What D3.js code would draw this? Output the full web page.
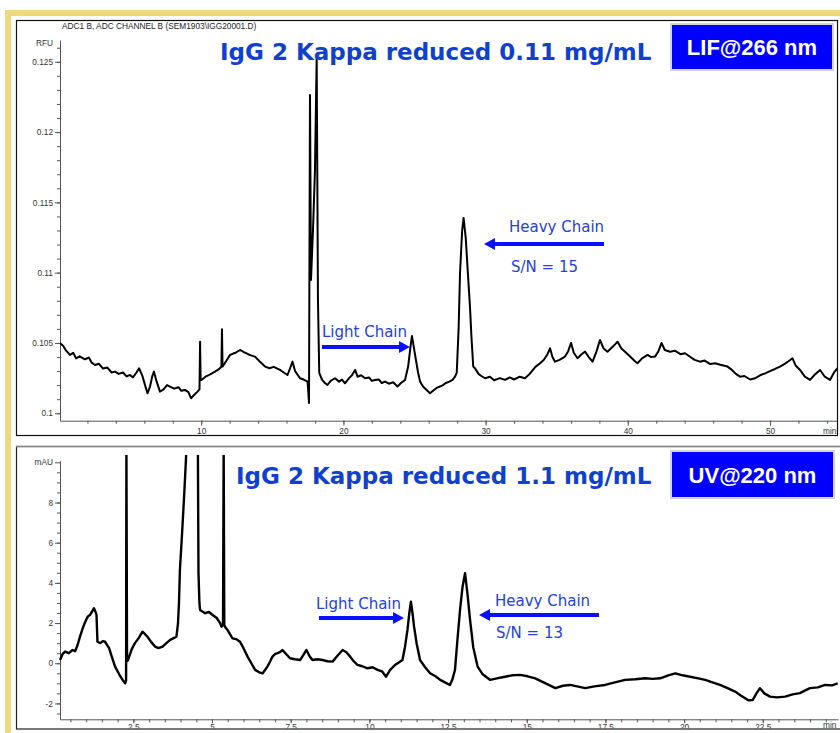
<!DOCTYPE html>
<html>
<head>
<meta charset="utf-8">
<script src="https://cdn.jsdelivr.net/npm/d3@7"></script>
<style>
body { margin: 0; background: #fff; }
</style>
</head>
<body>
<script>
// LIF trace (top), time in min / signal in RFU
var lifTime = [0.07,0.3,0.5,0.77,1.0,1.2,1.45,1.83,2.1,2.3,2.53,2.8,3.1,3.4,3.7,3.94,4.2,4.5,4.75,4.99,
  5.2,5.45,5.63,5.85,6.05,6.22,6.4,6.55,6.68,6.85,7.1,7.35,7.6,7.8,8.1,8.4,8.6,8.86,9.1,9.28,
  9.5,9.74,9.88,9.92,9.96,10.02,10.3,10.6,10.97,11.2,11.42,11.46,11.5,11.75,12.03,12.4,12.73,13.0,13.3,13.55,
  13.78,14.1,14.49,14.8,15.1,15.54,15.8,16.07,16.25,16.42,16.6,16.95,17.2,17.48,17.55,17.58,17.65,17.72,17.86,18.0,
  18.12,18.21,18.3,18.5,18.7,18.88,19.1,19.41,19.7,19.9,20.11,20.4,20.6,20.82,21.0,21.25,21.52,21.8,22.0,22.22,
  22.5,22.7,22.93,23.2,23.5,23.8,24.05,24.33,24.55,24.7,24.82,24.95,25.1,25.25,25.39,25.6,25.85,26.09,26.3,26.55,
  26.79,27.0,27.2,27.45,27.67,27.85,27.97,28.1,28.2,28.35,28.45,28.6,28.75,28.9,29.0,29.13,29.25,29.5,29.7,29.96,
  30.3,30.6,31.0,31.36,31.7,32.0,32.4,32.77,33.1,33.5,33.83,34.1,34.35,34.53,34.7,34.88,35.2,35.58,35.8,36.01,
  36.2,36.46,36.75,36.99,37.25,37.52,37.8,38.04,38.3,38.57,38.9,39.1,39.28,39.55,39.8,40.2,40.5,40.68,41.0,41.39,
  41.65,41.91,42.15,42.37,42.6,42.97,43.3,43.7,44.02,44.4,44.7,45.08,45.4,45.8,46.13,46.5,47.01,47.3,47.6,47.89,
  48.2,48.6,48.95,49.3,49.65,50.0,50.35,50.7,51.0,51.3,51.58,51.8,52.11,52.45,52.81,53.1,53.52,53.85,54.22,54.5,54.75];
var lifRfu = [0.1050,0.10478,0.10445,0.10415,0.10430,0.10390,0.10405,0.10384,0.10396,0.10360,0.10343,0.10352,0.10318,0.10325,0.10290,0.10296,0.10280,0.10290,0.10262,0.10272,
  0.10255,0.10290,0.10320,0.10270,0.10200,0.10142,0.10190,0.10260,0.10296,0.10230,0.10154,0.10170,0.10200,0.10190,0.10175,0.10185,0.10160,0.10166,0.10150,0.10107,
  0.10130,0.10154,0.10170,0.10509,0.10240,0.10237,0.10260,0.10275,0.10296,0.10310,0.10330,0.10597,0.10332,0.10370,0.10415,0.10430,0.10450,0.10435,0.10420,0.10410,
  0.10403,0.10370,0.10332,0.10320,0.10330,0.10308,0.10290,0.10272,0.10320,0.10367,0.10300,0.10249,0.10240,0.10225,0.10120,0.10073,0.12264,0.10948,0.11300,0.11730,
  0.12527,0.10806,0.10287,0.10237,0.10215,0.10201,0.10230,0.10249,0.10225,0.10240,0.10213,0.10250,0.10270,0.10308,0.10260,0.10270,0.10249,0.10255,0.10230,0.10237,
  0.10240,0.10215,0.10225,0.10210,0.10220,0.10190,0.10215,0.10237,0.10330,0.10460,0.10550,0.10470,0.10379,0.10290,0.10225,0.10190,0.10165,0.10142,0.10160,0.10180,
  0.10190,0.10200,0.10215,0.10225,0.10237,0.10260,0.10287,0.10600,0.10996,0.11300,0.11389,0.11250,0.11000,0.10758,0.10550,0.10332,0.10320,0.10280,0.10265,0.10249,
  0.10260,0.10235,0.10250,0.10237,0.10255,0.10240,0.10260,0.10249,0.10280,0.10330,0.10356,0.10380,0.10420,0.10462,0.10400,0.10367,0.10380,0.10403,0.10440,0.10500,
  0.10430,0.10391,0.10420,0.10438,0.10400,0.10367,0.10440,0.10521,0.10460,0.10438,0.10470,0.10490,0.10509,0.10460,0.10438,0.10400,0.10370,0.10356,0.10390,0.10415,
  0.10400,0.10403,0.10440,0.10500,0.10450,0.10438,0.10445,0.10420,0.10427,0.10400,0.10380,0.10367,0.10375,0.10350,0.10356,0.10345,0.10332,0.10310,0.10280,0.10260,
  0.10265,0.10240,0.10249,0.10270,0.10284,0.10300,0.10315,0.10332,0.10350,0.10370,0.10391,0.10340,0.10308,0.10260,0.10237,0.10270,0.10308,0.10260,0.10237,0.10290,0.10320];

// UV trace (bottom), time in min / signal in mAU
var uvTime = [0.17,0.25,0.33,0.45,0.57,0.65,0.73,0.8,0.89,0.97,1.05,1.12,1.2,1.25,1.3,1.33,1.36,1.45,1.53,1.6,
  1.73,1.82,1.92,2.05,2.16,2.24,2.27,2.28,2.3,2.33,2.45,2.55,2.67,2.79,2.87,2.95,3.07,3.19,3.3,3.43,
  3.55,3.67,3.78,3.87,3.92,3.95,3.98,4.05,4.12,4.18,4.2,4.55,4.57,4.6,4.62,4.78,4.9,5.02,5.15,5.26,
  5.3,5.35,5.37,5.39,5.44,5.49,5.65,5.77,5.89,6.0,6.13,6.25,6.37,6.5,6.61,6.68,6.76,6.85,6.92,7.0,
  7.08,7.16,7.24,7.36,7.48,7.64,7.8,7.9,8.0,8.1,8.19,8.35,8.51,8.67,8.83,9.0,9.15,9.27,9.39,9.5,
  9.62,9.78,9.94,10.1,10.26,10.4,10.53,10.65,10.82,10.95,11.05,11.13,11.21,11.27,11.32,11.37,11.42,11.5,11.61,11.77,
  11.93,12.1,12.25,12.4,12.56,12.64,12.72,12.8,12.88,12.96,13.04,13.12,13.2,13.3,13.44,13.6,13.84,14.05,14.31,14.55,
  14.79,15.03,15.27,15.6,15.91,16.15,16.38,16.6,16.86,17.15,17.49,17.8,18.13,18.45,18.76,19.0,19.24,19.5,19.72,19.95,
  20.19,20.45,20.67,20.9,21.14,21.4,21.62,21.8,21.94,22.05,22.18,22.3,22.41,22.55,22.73,22.95,23.21,23.45,23.68,23.85,
  24.0,24.25,24.48,24.7,24.88];
var uvMau = [0.16,0.45,0.58,0.50,0.66,0.60,0.91,1.30,1.74,2.05,2.32,2.40,2.60,2.74,2.55,2.40,1.07,1.00,1.10,1.07,
  0.75,0.30,-0.17,-0.55,-0.83,-1.00,-0.85,11,0.10,0.16,0.70,1.00,1.25,1.57,1.45,1.32,1.05,0.83,0.75,0.83,
  1.00,1.16,1.25,1.32,2.00,2.99,4.64,6.50,8.50,10.40,11,11,4.50,3.00,2.65,2.49,2.55,2.40,2.25,1.99,
  1.82,1.90,11,1.90,1.75,1.66,1.24,1.20,1.07,0.75,0.33,0.00,-0.33,-0.45,-0.50,-0.35,-0.17,0.10,0.33,0.45,
  0.50,0.55,0.66,0.45,0.25,0.20,0.16,0.40,0.66,0.35,0.16,0.20,0.16,0.10,0.08,0.40,0.66,0.55,0.33,0.10,
  -0.08,-0.15,-0.25,-0.20,-0.33,-0.40,-0.67,-0.35,-0.08,0.05,0.16,0.80,1.66,2.50,3.06,2.50,1.82,1.00,0.16,-0.20,
  -0.50,-0.65,-0.83,-0.95,-1.08,-0.80,-0.33,1.20,2.65,3.80,4.48,3.40,2.15,0.80,-0.17,-0.55,-0.83,-0.75,-0.67,-0.60,
  -0.58,-0.65,-0.75,-1.00,-1.24,-1.12,-1.08,-1.15,-1.24,-1.15,-1.08,-0.95,-0.83,-0.80,-0.75,-0.78,-0.75,-0.60,-0.50,-0.60,
  -0.67,-0.75,-0.83,-0.95,-1.08,-1.25,-1.41,-1.60,-1.74,-1.85,-1.83,-1.50,-1.24,-1.50,-1.66,-1.70,-1.66,-1.55,-1.49,-1.35,
  -1.24,-1.20,-1.08,-1.10,-1.00];

// tick values
var lifYMajor = [0.1,0.105,0.11,0.115,0.12,0.125];
var lifYLabels = ["0.1","0.105","0.11","0.115","0.12","0.125"];
var lifXMajor = [10,20,30,40,50];
var uvYMajor = [-2,0,2,4,6,8,10];
var uvYLabels = ["-2","0","2","4","6","8","mAU"];
var uvXMajor = [2.5,5,7.5,10,12.5,15,17.5,20,22.5];
var uvXLabels = ["2.5","5","7.5","10","12.5","15","17.5","20","22.5"];

var lifYMinor = d3.range(0, 27).map(function(i){ return 0.1 + i*0.001; });
var lifXMinor = d3.range(2, 55, 2);
var uvYMinor = d3.range(-5, 20).map(function(i){ return i*0.5; });
var uvXMinor = d3.range(1, 50).map(function(i){ return i*0.5; });

var svg = d3.select('body').append('svg').attr('width',840).attr('height',733);

// yellow slide border
svg.append('rect').attr('x',5).attr('y',10).attr('width',835).attr('height',6).attr('fill','#f0d87e');
svg.append('rect').attr('x',5).attr('y',10).attr('width',6).attr('height',723).attr('fill','#f0d87e');

// panel frames
svg.append('rect').attr('x',16.5).attr('y',20.5).attr('width',821).attr('height',415)
  .attr('fill','#fff').attr('stroke','#111').attr('stroke-width',1.2);
svg.append('rect').attr('x',16.5).attr('y',446.5).attr('width',830).attr('height',282.5)
  .attr('fill','#fff').attr('stroke','#222').attr('stroke-width',1.2);
svg.append('line').attr('x1',16).attr('x2',840).attr('y1',446.5).attr('y2',446.5).attr('stroke','#888').attr('stroke-width',1.5);

var defs = svg.append('defs');
defs.append('clipPath').attr('id','clipTop').append('rect').attr('x',17).attr('y',21).attr('width',820).attr('height',414);
defs.append('clipPath').attr('id','clipBot').append('rect').attr('x',17).attr('y',455).attr('width',823).attr('height',273.5);

svg.append('text').attr('x',62).attr('y',29).attr('font-family','Liberation Sans, Arial, sans-serif')
  .attr('font-size',8.3).attr('fill','#222').text('ADC1 B, ADC CHANNEL B (SEM1903\\IGG20001.D)');

// scales
var xL = d3.scaleLinear().domain([0.07, 54.78]).range([60, 838]);
var yL = d3.scaleLinear().domain([0.09947, 0.12655]).range([420.7, 40]);
var xU = d3.scaleLinear().domain([0.17, 24.89]).range([60, 838]);
var yU = d3.scaleLinear().domain([-2.79, 10.08]).range([719.3, 460.7]);

function styleAxis(g) {
  g.attr('font-family','Liberation Sans, Arial, sans-serif').attr('font-size',8.3);
  g.selectAll('.domain').attr('stroke','#555');
  g.selectAll('.tick line').attr('stroke','#555');
  g.selectAll('.tick text').attr('fill','#333');
}

function drawAxes(layer, x, y, xMaj, xMin, xFmt, yMaj, yMin, yFmt, xSize, xPad) {
  var gy = layer.append('g').attr('transform','translate(60,0)')
    .call(d3.axisLeft(y).tickValues(yMin).tickSize(3).tickSizeOuter(0).tickFormat(''));
  styleAxis(gy);
  var gy2 = layer.append('g').attr('transform','translate(60,0)')
    .call(d3.axisLeft(y).tickValues(yMaj).tickSize(5).tickSizeOuter(0).tickPadding(2).tickFormat(yFmt));
  gy2.select('.domain').remove();
  styleAxis(gy2);
  var y0 = y.range()[0];
  var gx = layer.append('g').attr('transform','translate(0,'+y0+')')
    .call(d3.axisBottom(x).tickValues(xMin).tickSize(3).tickSizeOuter(0).tickFormat(''));
  styleAxis(gx);
  var gx2 = layer.append('g').attr('transform','translate(0,'+y0+')')
    .call(d3.axisBottom(x).tickValues(xMaj).tickSize(xSize).tickSizeOuter(0).tickPadding(xPad).tickFormat(xFmt));
  gx2.select('.domain').remove();
  styleAxis(gx2);
}

var topPanel = svg.append('g').attr('clip-path','url(#clipTop)');
drawAxes(topPanel, xL, yL, lifXMajor, lifXMinor, function(d){ return d; },
  lifYMajor, lifYMinor, function(d,i){ return lifYLabels[i]; }, 5, 2.5);
topPanel.append('text').attr('x',53).attr('y',46).attr('text-anchor','end')
  .attr('font-family','Liberation Sans, Arial, sans-serif').attr('font-size',8.3).attr('fill','#333').text('RFU');
svg.append('text').attr('x',823).attr('y',434).attr('font-family','Liberation Sans, Arial, sans-serif')
  .attr('font-size',8.3).attr('fill','#333').text('min');

var lineL = d3.line().x(function(d,i){ return xL(lifTime[i]); }).y(function(d){ return yL(d); });
topPanel.append('path').attr('d', lineL(lifRfu)).attr('fill','none').attr('stroke','#000')
  .attr('stroke-width',2).attr('stroke-linejoin','round');

var botPanel = svg.append('g').attr('clip-path','url(#clipBot)');
drawAxes(botPanel, xU, yU, uvXMajor, uvXMinor, function(d,i){ return uvXLabels[i]; },
  uvYMajor, uvYMinor, function(d,i){ return uvYLabels[i]; }, 4, 1.2);
svg.append('text').attr('x',823).attr('y',728).attr('font-family','Liberation Sans, Arial, sans-serif')
  .attr('font-size',8.3).attr('fill','#333').text('min');

var lineU = d3.line().x(function(d,i){ return xU(uvTime[i]); }).y(function(d){ return yU(d); });
botPanel.append('path').attr('d', lineU(uvMau)).attr('fill','none').attr('stroke','#000')
  .attr('stroke-width',2.4).attr('stroke-linejoin','round');

// titles
var titleFont = 'DejaVu Sans, Verdana, sans-serif';
svg.append('text').attr('x',220).attr('y',60).attr('font-family',titleFont).attr('font-weight','bold')
  .attr('font-size',23).attr('fill','#1040cc').text('IgG 2 Kappa reduced 0.11 mg/mL');
svg.append('text').attr('x',236).attr('y',484).attr('font-family',titleFont).attr('font-weight','bold')
  .attr('font-size',23).attr('fill','#1040cc').text('IgG 2 Kappa reduced 1.1 mg/mL');

// badges
function badge(x, y, w, h, label) {
  svg.append('rect').attr('x',x).attr('y',y).attr('width',w).attr('height',h)
    .attr('fill','#0000ff').attr('stroke','#d4d4d4').attr('stroke-width',2);
  svg.append('text').attr('x',x+w/2).attr('y',y+h/2+8).attr('text-anchor','middle')
    .attr('font-family','Liberation Sans, Arial, sans-serif').attr('font-weight','bold')
    .attr('font-size',22).attr('fill','#fff').text(label);
}
badge(671, 24, 162, 46, 'LIF@266 nm');
badge(671, 451, 163, 47, 'UV@220 nm');

// annotations
var annColor = '#2442d6', arrowColor = '#0a10ff';
function note(x, y, s) {
  svg.append('text').attr('x',x).attr('y',y).attr('font-family',titleFont)
    .attr('font-size',15).attr('fill',annColor).text(s);
}
function arrow(x1, x2, y) {
  var dir = x2 > x1 ? 1 : -1;
  svg.append('line').attr('x1',x1).attr('x2',x2 - dir*9).attr('y1',y).attr('y2',y)
    .attr('stroke',arrowColor).attr('stroke-width',4);
  svg.append('path').attr('d','M'+x2+','+y+'L'+(x2-dir*11)+','+(y-6)+'L'+(x2-dir*11)+','+(y+6)+'Z')
    .attr('fill',arrowColor);
}
note(509, 232, 'Heavy Chain');
arrow(604, 484, 244);
note(511, 272, 'S/N = 15');
note(322, 337, 'Light Chain');
arrow(322, 410, 347);

note(316, 609, 'Light Chain');
arrow(319, 404, 618);
note(495, 606, 'Heavy Chain');
arrow(599, 479, 615);
note(496, 638, 'S/N = 13');
</script>
</body>
</html>
